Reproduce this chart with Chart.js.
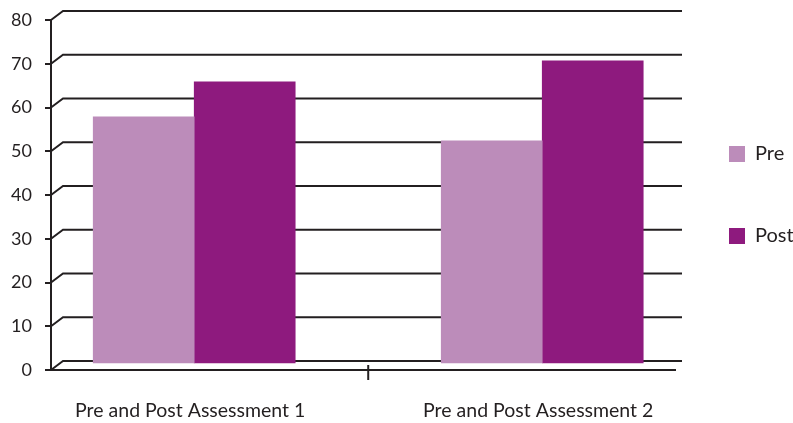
<!DOCTYPE html>
<html><head><meta charset="utf-8">
<script src="https://cdn.jsdelivr.net/npm/chart.js@4"></script>
<style>html,body{margin:0;padding:0;background:#fff}#wrap{width:793px;height:423px}</style>
</head><body><div id="wrap"><canvas id="c" width="793" height="423"></canvas></div>
<script>
const categories = ['Pre and Post Assessment 1', 'Pre and Post Assessment 2'];
const seriesNames = ['Pre', 'Post'];
const preValues = [56.5, 51];
const postValues = [64.5, 69.3];
const yTicks = [0, 10, 20, 30, 40, 50, 60, 70, 80];

const INK = '#231f20';

const wallPlugin = {
  id: 'wall3d',
  beforeDatasetsDraw(chart) {
    const {ctx, chartArea: a, scales: {x, y}} = chart;
    ctx.save();
    ctx.strokeStyle = INK;
    ctx.lineWidth = 2;
    yTicks.forEach(v => {
      const py = y.getPixelForValue(v);
      ctx.beginPath();
      ctx.moveTo(a.left, py);
      ctx.lineTo(a.left + 12, py - 9);
      ctx.lineTo(a.right + 15, py - 9);
      ctx.stroke();
    });
    ctx.beginPath();
    ctx.moveTo(a.left, a.bottom);
    ctx.lineTo(a.right + 9, a.bottom);
    ctx.stroke();
    const tx = x.getPixelForValue(1.5) + 4;
    ctx.beginPath();
    ctx.moveTo(tx, a.bottom - 5);
    ctx.lineTo(tx, a.bottom + 10);
    ctx.stroke();
    ctx.restore();
    ctx.save();
    ctx.translate(4, -6);
  },
  afterDatasetsDraw(chart) {
    chart.ctx.restore();
  }
};

Chart.defaults.font.family = 'Lato';
Chart.defaults.color = INK;

new Chart(document.getElementById('c'), {
  type: 'bar',
  data: {
    datasets: [
      { label: seriesNames[0], data: preValues.map((v, i) => ({x: i + 1, y: v})), backgroundColor: '#bc8cba', borderWidth: 0 },
      { label: seriesNames[1], data: postValues.map((v, i) => ({x: i + 1, y: v})), backgroundColor: '#8e1a7e', borderWidth: 0 }
    ]
  },
  options: {
    responsive: false,
    devicePixelRatio: 1,
    animation: false,
    layout: { padding: { top: 20, left: 0, right: 0, bottom: 0 } },
    datasets: { bar: { barThickness: 101, grouped: true } },
    scales: {
      x: {
        type: 'linear',
        offset: false,
        min: 0.6,
        max: 2.37,
        afterBuildTicks: s => { s.ticks = categories.map((c, i) => ({value: i + 1})); },
        afterFit: s => { s.height = 53; s.paddingLeft = 0; s.paddingRight = 0; },
        grid: { display: false },
        border: { display: false },
        ticks: {
          autoSkip: false, maxRotation: 0, minRotation: 0, padding: 21,
          font: { size: 19.5 },
          callback: (v, i) => categories[i]
        }
      },
      y: {
        min: 0, max: 80,
        afterBuildTicks: s => { s.ticks = yTicks.map(v => ({value: v})); },
        afterFit: s => { s.width = 51; s.paddingTop = 0; s.paddingBottom = 0; },
        grid: { drawOnChartArea: false, drawTicks: true, tickLength: 6, color: INK, lineWidth: 2 },
        border: { display: true, color: INK, width: 2 },
        ticks: { padding: 13, font: { size: 18 } }
      }
    },
    plugins: {
      tooltip: { enabled: false },
      legend: {
        position: 'right',
        fullSize: false,
        maxWidth: 126,
        labels: { boxWidth: 16, boxHeight: 16, padding: 62, font: { size: 20 }, color: INK }
      }
    }
  },
  plugins: [wallPlugin]
});
</script>
</body></html>
